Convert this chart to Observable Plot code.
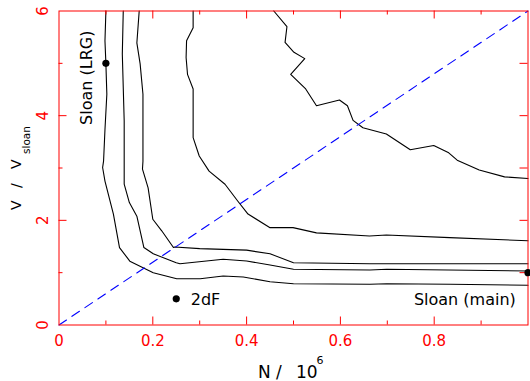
<!DOCTYPE html>
<html><head><meta charset="utf-8">
<script src="https://cdn.jsdelivr.net/npm/d3@7"></script>
<script src="https://cdn.jsdelivr.net/npm/@observablehq/plot@0.6"></script>
<style>body{margin:0;background:#fff;} svg{display:block}</style>
</head><body><div id="chart"></div>
<script>
// Contour curves (N / 10^6, V / V_sloan)
const curve1N = [0.100,0.098,0.100,0.102,0.098,0.095,0.093,0.098,0.116,0.129,0.151,0.201,0.251,0.301,0.350,0.393,0.450,0.500,0.663,0.699,0.834,1.0];
const curve1V = [6.0,5.43,4.99,4.41,3.73,3.13,3.01,2.75,2.12,1.48,1.22,1.00,0.885,0.885,0.936,0.917,0.827,0.789,0.778,0.789,0.778,0.759];
const curve2N = [0.137,0.135,0.139,0.139,0.139,0.150,0.166,0.181,0.201,0.250,0.258,0.350,0.400,0.450,0.500,0.663,0.699,1.0];
const curve2V = [6.0,5.18,3.90,3.13,2.69,2.34,2.08,1.48,1.36,1.19,1.17,1.255,1.223,1.146,1.064,1.051,1.064,1.032];
const curve3N = [0.171,0.166,0.173,0.179,0.179,0.178,0.190,0.200,0.219,0.244,0.247,0.300,0.400,0.450,0.500,0.663,1.0];
const curve3V = [6.0,5.39,4.99,4.41,3.13,2.98,2.62,2.02,1.80,1.48,1.49,1.46,1.43,1.36,1.19,1.17,1.17];
const curve4N = [0.286,0.286,0.272,0.271,0.274,0.286,0.286,0.299,0.320,0.354,0.381,0.403,0.450,0.499,0.549,0.662,0.698,0.833,1.0];
const curve4V = [6.0,5.68,5.43,5.11,4.79,4.51,3.58,3.23,2.94,2.69,2.37,2.12,1.86,1.86,1.76,1.70,1.72,1.67,1.61];
const curve5N = [0.458,0.486,0.482,0.501,0.524,0.494,0.526,0.549,0.598,0.615,0.627,0.648,0.698,0.749,0.799,0.831,0.849,0.896,0.950,1.0];
const curve5V = [6.0,5.70,5.40,5.21,5.09,4.79,4.51,4.19,4.30,4.19,3.91,3.77,3.65,3.35,3.43,3.29,3.15,2.96,2.83,2.80];

// Diagonal reference line
const diagN = [0, 1];
const diagV = [0, 6];

// Survey points
const surveyN = [0.1, 0.25, 1.0];
const surveyV = [5, 0.5, 1];

// Tick values and labels
const xTicks = [0, 0.2, 0.4, 0.6, 0.8];
const xTickLabels = ["0", "0.2", "0.4", "0.6", "0.8"];
const xMajor = [0.2, 0.4, 0.6, 0.8];
const xMinor = [0.1, 0.3, 0.5, 0.7, 0.9];
const yTicks = [0, 2, 4, 6];
const yTickLabels = ["0", "2", "4", "6"];
const yMajor = [2, 4];
const yMinor = [1, 3, 5];
const yRight = [1, 2, 3, 4, 5];

const curves = [
  [curve1N, curve1V], [curve2N, curve2V], [curve3N, curve3V],
  [curve4N, curve4V], [curve5N, curve5V]
];
const contourRows = curves.flatMap(([ns, vs], id) => ns.map((n, i) => ({id, n, v: vs[i]})));
const diagRows = diagN.map((n, i) => ({n, v: diagV[i]}));
const surveyRows = surveyN.map((n, i) => ({n, v: surveyV[i]}));

const W = 530, H = 381;
const mL = 58.5, mR = 2.5, mT = 10.5, mB = 56.5;
const plotW = W - mL - mR, plotH = H - mT - mB;
const FONT = "DejaVu Sans";
const FW = 400;

const chart = Plot.plot({
  width: W, height: H,
  marginLeft: mL, marginRight: mR, marginTop: mT, marginBottom: mB,
  style: {fontFamily: FONT, background: "white"},
  x: {domain: [0, 1], axis: null},
  y: {domain: [0, 6], axis: null},
  marks: [
    Plot.line(contourRows, {x: "n", y: "v", z: "id", stroke: "black", strokeWidth: 1.1}),
    Plot.line(diagRows, {x: "n", y: "v", stroke: "#0000ff", strokeWidth: 1.1, strokeDasharray: "9,6.6"}),
    // ticks (inward)
    Plot.ruleX(xMajor, {x: d => d, stroke: "red", insetTop: plotH - 8}),
    Plot.ruleX(xMinor, {x: d => d, stroke: "red", insetTop: plotH - 4}),
    Plot.ruleX(xMajor, {x: d => d, stroke: "red", insetBottom: plotH - 8}),
    Plot.ruleX(xMinor, {x: d => d, stroke: "red", insetBottom: plotH - 4}),
    Plot.ruleY(yMajor, {y: d => d, stroke: "red", insetRight: plotW - 8}),
    Plot.ruleY(yMinor, {y: d => d, stroke: "red", insetRight: plotW - 4}),
    Plot.ruleY(yRight, {y: d => d, stroke: "red", insetLeft: plotW - 8}),
    Plot.frame({stroke: "red"}),
    Plot.dot(surveyRows, {x: "n", y: "v", r: 3.6, fill: "black", stroke: "none"}),
    // tick labels
    Plot.text(xTicks, {x: d => d, text: (d, i) => xTickLabels[i], frameAnchor: "bottom", dy: 21.2,
      lineAnchor: "bottom", textAnchor: "middle", fill: "red", fontSize: 15, fontFamily: FONT, fontWeight: FW}),
    Plot.text(yTicks, {y: d => d, text: (d, i) => yTickLabels[i], frameAnchor: "left", dx: -11.2,
      rotate: -90, lineAnchor: "bottom", textAnchor: "middle", fill: "red", fontSize: 15, fontFamily: FONT, fontWeight: FW}),
    // annotations
    Plot.text(["Sloan (LRG)"], {x: 0.0704, y: 4.725, text: d => d, rotate: -90, lineAnchor: "bottom",
      textAnchor: "middle", fill: "black", fontSize: 16, fontFamily: FONT, fontWeight: FW}),
    Plot.text(["2dF"], {x: 0.281, y: 0.382, text: d => d, lineAnchor: "bottom",
      textAnchor: "start", fill: "black", fontSize: 16, fontFamily: FONT, fontWeight: FW}),
    Plot.text(["Sloan (main)"], {x: 0.974, y: 0.382, text: d => d, lineAnchor: "bottom",
      textAnchor: "end", fill: "black", fontSize: 16, fontFamily: FONT, fontWeight: FW})
  ]
});

const svg = d3.select(chart.tagName.toLowerCase() === "svg" ? chart : chart.querySelector("svg"));
// x-axis title: N / 10^6
const xt = svg.append("text").attr("font-family", FONT).attr("font-weight", FW)
  .attr("text-anchor", "start").attr("fill", "black").attr("font-size", 17);
xt.append("tspan").attr("x", 258).attr("y", 378).text("N");
xt.append("tspan").attr("x", 276).attr("y", 378).text("/");
xt.append("tspan").attr("x", 296).attr("y", 378).text("10");
xt.append("tspan").attr("x", 316.5).attr("y", 363.5).attr("font-size", 11).text("6");
// y-axis title: V / V_sloan
const yg = svg.append("g").attr("transform", "translate(21,210) rotate(-90)");
const yt = yg.append("text").attr("font-family", FONT).attr("font-weight", FW)
  .attr("text-anchor", "start").attr("fill", "black").attr("font-size", 14);
yt.append("tspan").attr("x", 0).attr("y", 0).text("V");
yt.append("tspan").attr("x", 22).attr("y", 0).text("/");
yt.append("tspan").attr("x", 41).attr("y", 0).text("V");
yt.append("tspan").attr("x", 56).attr("y", 9).attr("font-size", 10.5).text("sloan");

document.getElementById("chart").appendChild(chart);
</script>
</body></html>
